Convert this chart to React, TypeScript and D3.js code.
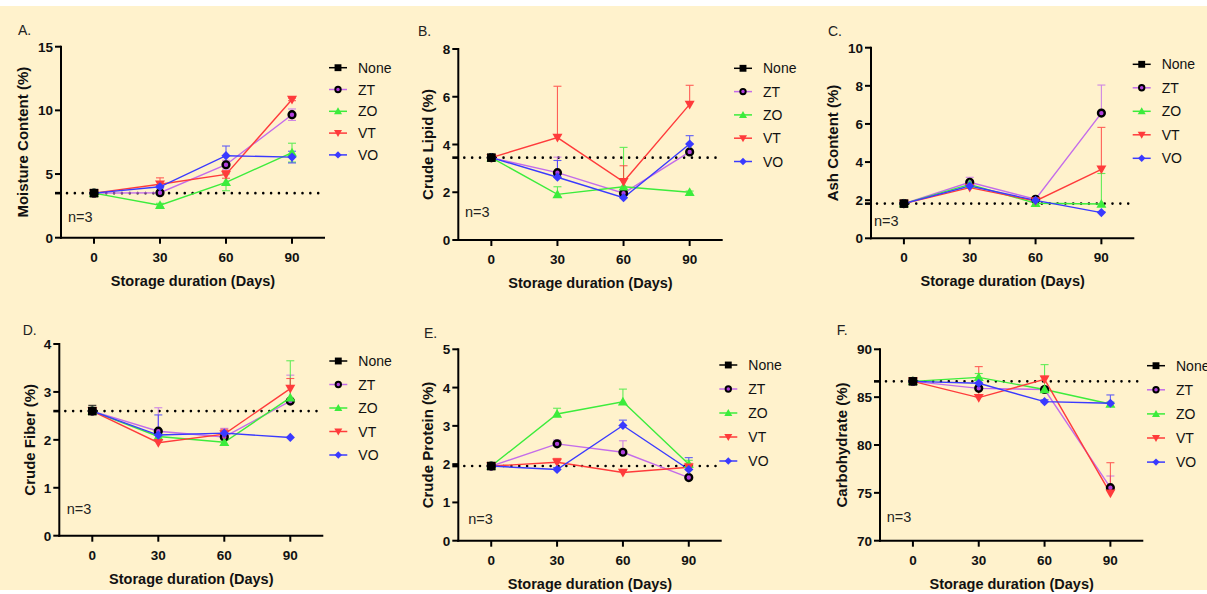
import * as d3 from 'd3';

// storage days and treatments
const days = [0, 30, 60, 90];
const treatments = ['ZT', 'ZO', 'VT', 'VO'];
const legendNames = ['None', 'ZT', 'ZO', 'VT', 'VO'];

// A. moisture content
const moistureMean = { None: [3.5], ZT: [3.5, 3.53, 5.73, 9.66], ZO: [3.5, 2.55, 4.35, 6.68], VT: [3.5, 4.2, 4.97, 10.86], VO: [3.5, 4.0, 6.44, 6.33] };
const moistureErr = { None: [0.05], ZT: [0.05, 0.1, 0.35, 0.45], ZO: [0.05, 0.15, 0.66, 0.74], VT: [0.05, 0.5, 0.3, 0.1], VO: [0.05, 0.1, 0.76, 0.46] };

// B. crude lipid
const lipidMean = { None: [3.45], ZT: [3.45, 2.82, 1.96, 3.69], ZO: [3.45, 1.91, 2.23, 2.0], VT: [3.45, 4.29, 2.44, 5.68], VO: [3.45, 2.63, 1.77, 4.02] };
const lipidErr = { None: [0], ZT: [0, 0.65, 0.1, 0.1], ZO: [0, 0.32, 1.65, 0.05], VT: [0, 2.15, 0.67, 0.8], VO: [0, 0.7, 0.1, 0.35] };

// C. ash content
const ashMean = { None: [1.82], ZT: [1.82, 2.94, 2.05, 6.57], ZO: [1.82, 2.83, 1.84, 1.8], VT: [1.82, 2.66, 1.96, 3.62], VO: [1.82, 2.74, 1.99, 1.35] };
const ashErr = { None: [0], ZT: [0, 0.26, 0.1, 1.47], ZO: [0, 0.1, 0.05, 1.6], VT: [0, 0.1, 0.05, 2.2], VO: [0, 0.1, 0.05, 0.05] };

// D. crude fiber
const fiberMean = { None: [2.6], ZT: [2.6, 2.18, 2.06, 2.81], ZO: [2.6, 2.07, 1.95, 2.88], VT: [2.6, 1.94, 2.12, 3.07], VO: [2.6, 2.1, 2.14, 2.05] };
const fiberErr = { None: [0.12], ZT: [0, 0.49, 0.18, 0.54], ZO: [0, 0.05, 0.05, 0.77], VT: [0, 0.05, 0.1, 0.21], VO: [0, 0.42, 0.05, 0.03] };

// E. crude protein
const proteinMean = { None: [1.95], ZT: [1.95, 2.53, 2.31, 1.65], ZO: [1.95, 3.31, 3.63, 2.0], VT: [1.95, 2.05, 1.78, 1.92], VO: [1.95, 1.86, 3.01, 1.86] };
const proteinErr = { None: [0], ZT: [0, 0.1, 0.3, 0.05], ZO: [0, 0.15, 0.33, 0.1], VT: [0, 0.1, 0.05, 0.1], VO: [0, 0.05, 0.14, 0.31] };

// F. carbohydrate
const carbMean = { None: [86.65], ZT: [86.65, 85.92, 85.8, 75.54], ZO: [86.65, 87.07, 85.8, 84.29], VT: [86.65, 84.95, 86.86, 74.95], VO: [86.65, 86.45, 84.53, 84.36] };
const carbErr = { None: [0], ZT: [0, 0.2, 0.3, 1.22], ZO: [0, 0.4, 2.6, 0.2], VT: [0, 3.24, 0.34, 3.2], VO: [0, 0.1, 0.2, 0.87] };

const colors = { None: '#000000', ZT: '#C46CEA', ZO: '#3CEC3C', VT: '#FF3B3B', VO: '#3A3AFF' };
const FONT = '"Liberation Sans", Arial, sans-serif';

const panels = [
  { tag: 'A.', title: 'Moisture Content (%)', mean: moistureMean, err: moistureErr, both: true, dom: [0, 15], ticks: [0, 5, 10, 15], x0: 61, x1: 325, yT: 46.7, yB: 237.7, lab: [18, 35], n: [68, 222], ytx: 23, leg: [338, 67.7, 21.8] },
  { tag: 'B.', title: 'Crude Lipid (%)', mean: lipidMean, err: lipidErr, both: false, dom: [0, 8], ticks: [0, 2, 4, 6, 8], x0: 458.3, x1: 722.7, yT: 49, yB: 240, lab: [418, 36], n: [465, 217], ytx: 428, leg: [743, 68.3, 23.3] },
  { tag: 'C.', title: 'Ash Content (%)', mean: ashMean, err: ashErr, both: false, dom: [0, 10], ticks: [0, 2, 4, 6, 8, 10], x0: 871, x1: 1134.3, yT: 47.7, yB: 238.3, lab: [828, 35.5], n: [874, 226], ytx: 833, leg: [1141.7, 64.3, 23.5] },
  { tag: 'D.', title: 'Crude Fiber (%)', mean: fiberMean, err: fiberErr, both: false, dom: [0, 4], ticks: [0, 1, 2, 3, 4], x0: 59.3, x1: 323.3, yT: 344, yB: 535.7, lab: [22.7, 335], n: [66.7, 513.5], ytx: 30, leg: [338.3, 361, 23.5] },
  { tag: 'E.', title: 'Crude Protein (%)', mean: proteinMean, err: proteinErr, both: false, dom: [0, 5], ticks: [0, 1, 2, 3, 4, 5], x0: 458.3, x1: 721.7, yT: 349.3, yB: 540.7, lab: [424, 337.5], n: [468.3, 523.5], ytx: 428, leg: [728.3, 365, 24] },
  { tag: 'F.', title: 'Carbohydrate (%)', mean: carbMean, err: carbErr, both: false, dom: [70, 90], ticks: [70, 75, 80, 85, 90], x0: 880, x1: 1143.3, yT: 349.3, yB: 540.7, lab: [836.7, 334.5], n: [886.7, 522], ytx: 842, leg: [1156, 365.7, 24.1] },
];

function Marker({ name, x, y, k = 1 }: { name: string; x: number; y: number; k?: number }) {
  const c = colors[name];
  if (name === 'None') {
    const s = 4.3 * k;
    return <rect x={x - s} y={y - s} width={2 * s} height={2 * s} fill="#000" />;
  }
  if (name === 'ZT') {
    return <circle cx={x} cy={y} r={3.4 * k} fill="#B040DD" stroke="#000" strokeWidth={2.4 * k} />;
  }
  if (name === 'ZO') {
    const s = 5 * k;
    return <path d={`M${x},${y - s}L${x + s},${y + s * 0.75}L${x - s},${y + s * 0.75}Z`} fill={c} />;
  }
  if (name === 'VT') {
    const s = 5 * k;
    return <path d={`M${x},${y + s}L${x + s},${y - s * 0.75}L${x - s},${y - s * 0.75}Z`} fill={c} />;
  }
  const s = 4.6 * k;
  return <path d={`M${x},${y - s}L${x + s},${y}L${x},${y + s}L${x - s},${y}Z`} fill={c} />;
}

function Panel({ p }: { p: any }) {
  const x = d3.scaleLinear().domain([-15, 105]).range([p.x0, p.x1]);
  const y = d3.scaleLinear().domain(p.dom).range([p.yB, p.yT]);
  const line = d3.line<number>().x((_, i) => x(days[i])).y((v) => y(v));
  const base = p.mean.None[0];
  const order = ['ZT', 'ZO', 'VT', 'VO'];
  const bars: any[] = [];
  ['None', ...treatments].forEach((s) => {
    p.mean[s].forEach((v: number, i: number) => {
      const e = p.err[s][i];
      if (e < 0.04) return;
      const xp = x(days[i]);
      const top = y(v + e);
      const bot = p.both ? y(v - e) : y(v);
      bars.push(
        <g key={`${s}-${i}`} stroke={s === 'None' ? '#000' : colors[s]} strokeWidth={1.1} opacity={0.8}>
          <line x1={xp} x2={xp} y1={top} y2={bot} />
          <line x1={xp - 4} x2={xp + 4} y1={top} y2={top} />
          {p.both && <line x1={xp - 4} x2={xp + 4} y1={bot} y2={bot} />}
        </g>
      );
    });
  });
  return (
    <g fontFamily={FONT}>
      <text x={p.lab[0]} y={p.lab[1]} fontSize={14} fill="#222">{p.tag}</text>
      {/* dotted reference line at day 0 value */}
      <line x1={p.x0 - 6} x2={p.x0} y1={y(base)} y2={y(base)} stroke="#000" strokeWidth={2.6} />
      <line x1={p.x0 + 6} x2={p.x1} y1={y(base)} y2={y(base)} stroke="#000" strokeWidth={2.6} strokeDasharray="0 7.85" strokeLinecap="round" />
      {order.map((s) => (
        <path key={s} d={line(p.mean[s]) || ''} fill="none" stroke={colors[s]} strokeWidth={1.4} />
      ))}
      {bars}
      {order.map((s) => p.mean[s].map((v: number, i: number) => <Marker key={s + i} name={s} x={x(days[i])} y={y(v)} />))}
      <Marker name="None" x={x(0)} y={y(base)} />
      {/* axes */}
      <g stroke="#000" strokeWidth={2}>
        <line x1={p.x0} x2={p.x0} y1={p.yT - 1} y2={p.yB + 1} />
        <line x1={p.x0 - 1} x2={p.x1} y1={p.yB} y2={p.yB} />
        {p.ticks.map((t: number) => (
          <line key={t} x1={p.x0 - 6} x2={p.x0} y1={y(t)} y2={y(t)} />
        ))}
        {days.map((d) => (
          <line key={d} x1={x(d)} x2={x(d)} y1={p.yB} y2={p.yB + 6} />
        ))}
      </g>
      <g fontSize={13.5} fontWeight="bold" fill="#111">
        {p.ticks.map((t: number) => (
          <text key={t} x={p.x0 - 8} y={y(t) + 5} textAnchor="end">{t}</text>
        ))}
        {days.map((d) => (
          <text key={d} x={x(d)} y={p.yB + 24} textAnchor="middle">{d}</text>
        ))}
      </g>
      <text x={(p.x0 + p.x1) / 2} y={p.yB + 48} textAnchor="middle" fontSize={14.5} fontWeight="bold" fill="#111">
        Storage duration (Days)
      </text>
      <text transform={`translate(${p.ytx},${(p.yT + p.yB) / 2}) rotate(-90)`} dy="0.36em" textAnchor="middle" fontSize={15} fontWeight="bold" fill="#111">
        {p.title}
      </text>
      <text x={p.n[0]} y={p.n[1]} fontSize={14.5} fill="#222">n=3</text>
      {/* legend */}
      {legendNames.map((s, i) => {
        const ly = p.leg[1] + i * p.leg[2];
        const lx = p.leg[0];
        return (
          <g key={s}>
            <line x1={lx - 9} x2={lx + 9} y1={ly} y2={ly} stroke={colors[s]} strokeWidth={1.5} />
            <Marker name={s} x={lx} y={ly} k={0.8} />
            <text x={lx + 20} y={ly + 5} fontSize={14} fill="#111">{s}</text>
          </g>
        );
      })}
    </g>
  );
}

export default function App() {
  return (
    <svg width={1207} height={594} style={{ position: 'fixed', left: 0, top: 0 }}>
      <rect x={0} y={0} width={1207} height={594} fill="#ffffff" />
      <rect x={0} y={6} width={1207} height={584} fill="#FFF2CC" />
      {panels.map((p) => (
        <Panel key={p.tag} p={p} />
      ))}
    </svg>
  );
}
